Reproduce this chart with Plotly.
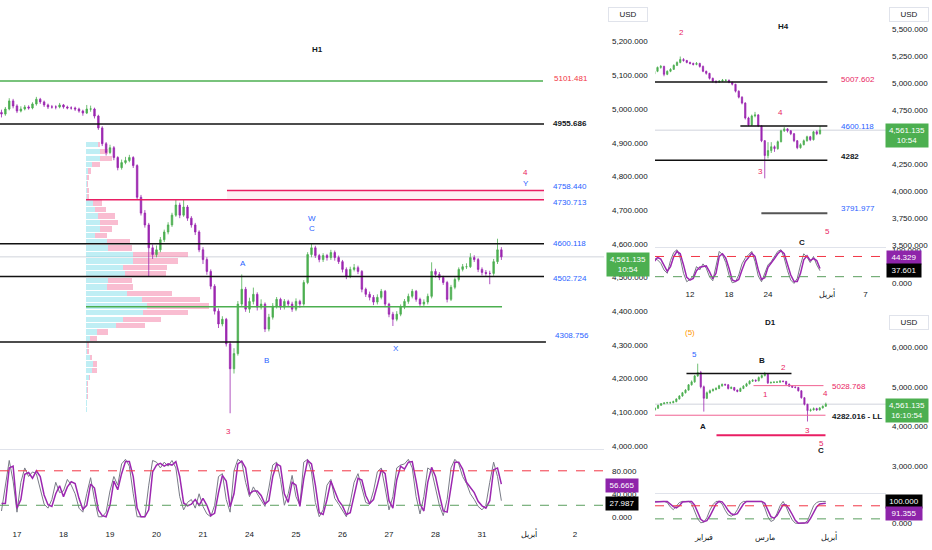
import pandas as pd
import plotly.graph_objects as go

# ---------------- data ----------------
# H1 candles (2-hour bars), first bar 2025-03-14 16:00
h1_start = "2025-03-14 16:00"
h1_open0 = 4990
h1_close = [4985, 5000, 5024, 5009, 4994, 5000, 5006, 5003, 5015, 5029,
            5021, 5012, 5006, 5006, 5006, 5012, 5006, 5003, 5003, 5000,
            4994, 4988, 5000, 5000, 4979, 4944, 4897, 4871, 4885, 4856,
            4826, 4841, 4847, 4856, 4832, 4738, 4691, 4656, 4588, 4568,
            4582, 4612, 4635, 4656, 4685, 4715, 4685, 4709, 4676, 4656,
            4635, 4582, 4553, 4518, 4474, 4400, 4362, 4376, 4303, 4229,
            4274, 4421, 4465, 4406, 4429, 4450, 4412, 4421, 4347, 4382,
            4415, 4435, 4412, 4429, 4421, 4406, 4429, 4421, 4485, 4568,
            4588, 4565, 4553, 4565, 4559, 4574, 4559, 4547, 4524, 4503,
            4524, 4529, 4518, 4465, 4450, 4441, 4427, 4441, 4459, 4421,
            4391, 4376, 4391, 4412, 4429, 4444, 4459, 4435, 4421, 4427,
            4444, 4518, 4509, 4500, 4485, 4435, 4471, 4494, 4524, 4532,
            4532, 4559, 4553, 4524, 4515, 4512, 4512, 4547, 4582, 4561.135]
h1_high = [4998, 5006, 5032, 5030, 5014, 5008, 5012, 5011, 5020, 5036,
           5033, 5025, 5016, 5012, 5011, 5018, 5015, 5010, 5008, 5007,
           5004, 4998, 5012, 5010, 5004, 4983, 4949, 4902, 4894, 4890,
           4860, 4850, 4858, 4864, 4860, 4836, 4745, 4700, 4662, 4598,
           4595, 4620, 4642, 4664, 4692, 4730, 4722, 4730, 4715, 4682,
           4662, 4640, 4590, 4560, 4524, 4480, 4408, 4385, 4380, 4310,
           4290, 4430, 4509, 4472, 4440, 4470, 4456, 4435, 4426, 4392,
           4424, 4442, 4440, 4436, 4434, 4428, 4438, 4434, 4492, 4575,
           4600, 4594, 4570, 4572, 4570, 4582, 4580, 4565, 4552, 4530,
           4532, 4540, 4535, 4522, 4470, 4458, 4448, 4450, 4466, 4463,
           4425, 4398, 4400, 4420, 4436, 4452, 4466, 4463, 4440, 4435,
           4452, 4545, 4526, 4516, 4505, 4490, 4478, 4500, 4530, 4540,
           4542, 4572, 4566, 4558, 4530, 4522, 4520, 4555, 4615, 4590]
h1_low = [4975, 4980, 4996, 5002, 4988, 4990, 4996, 4998, 4999, 5010,
          5015, 5006, 5000, 5001, 4999, 5002, 5001, 4999, 4998, 4994,
          4989, 4980, 4985, 4992, 4972, 4938, 4890, 4862, 4866, 4848,
          4818, 4820, 4836, 4842, 4825, 4730, 4684, 4648, 4503, 4555,
          4560, 4575, 4605, 4628, 4650, 4680, 4676, 4680, 4668, 4648,
          4626, 4575, 4540, 4508, 4465, 4390, 4350, 4355, 4295, 4097,
          4215, 4268, 4415, 4398, 4395, 4420, 4402, 4405, 4338, 4340,
          4375, 4408, 4404, 4405, 4412, 4398, 4400, 4410, 4416, 4480,
          4560, 4558, 4545, 4546, 4550, 4552, 4550, 4540, 4515, 4495,
          4498, 4518, 4510, 4456, 4442, 4432, 4418, 4420, 4435, 4412,
          4382, 4356, 4370, 4385, 4406, 4422, 4438, 4428, 4412, 4414,
          4420, 4438, 4500, 4492, 4478, 4426, 4430, 4465, 4488, 4518,
          4525, 4528, 4546, 4516, 4506, 4505, 4480, 4505, 4540, 4552]
h1_stoch_k = [10, 55, 98, 62, 8, 60, 85, 70, 78, 75,
              50, 22, 15, 30, 60, 42, 45, 65, 55, 40,
              15, 8, 40, 68, 30, 0, 0, 8, 45, 70,
              55, 92, 100, 88, 40, 0, 0, 0, 55, 98,
              95, 85, 95, 88, 98, 85, 35, 12, 25, 30,
              15, 40, 18, 5, 0, 20, 70, 75, 30, 8,
              80, 100, 95, 60, 35, 52, 40, 30, 18, 50,
              90, 95, 65, 20, 40, 72, 35, 20, 95, 100,
              78, 25, 0, 12, 55, 65, 32, 22, 10, 0,
              25, 60, 75, 50, 25, 22, 45, 78, 85, 50,
              12, 35, 85, 90, 92, 100, 85, 35, 5, 35,
              85, 80, 50, 20, 2, 30, 85, 100, 92, 70,
              58, 40, 30, 18, 12, 20, 60, 95, 70, 27.987]
h1_stoch_d = [23, 23, 85, 88, 15, 30, 74, 77, 67, 80,
              70, 38, 21, 18, 40, 54, 35, 52, 61, 58,
              32, 13, 20, 57, 50, 12, 2, 0, 20, 62,
              47, 75, 96, 96, 70, 15, 0, 0, 12, 78,
              90, 93, 88, 92, 90, 96, 70, 24, 19, 22,
              30, 20, 32, 20, 2, 6, 42, 72, 62, 17,
              40, 92, 97, 85, 40, 45, 45, 37, 22, 28,
              70, 92, 88, 40, 25, 60, 55, 18, 66, 98,
              92, 55, 7, 4, 30, 62, 45, 28, 19, 4,
              7, 37, 67, 64, 37, 23, 30, 55, 82, 75,
              28, 15, 64, 88, 83, 95, 96, 62, 22, 10,
              60, 86, 70, 39, 10, 8, 55, 95, 95, 83,
              60, 51, 42, 27, 19, 15, 28, 82, 85, 56.665]

# H1 volume profile
vp_price = [4894, 4874, 4854, 4835, 4816, 4797, 4778, 4759, 4740, 4721,
            4701, 4682, 4663, 4644, 4625, 4606, 4587, 4568, 4549, 4529,
            4510, 4491, 4472, 4453, 4434, 4415, 4396, 4376, 4357, 4338,
            4319, 4300, 4281, 4262, 4243, 4224, 4204, 4185, 4166, 4147,
            4128, 4109]
vp_up = [12, 14, 14, 6, 2, 1, 1, 1, 1, 7, 9, 12, 14, 14, 9, 21, 22, 47, 47, 37,
         39, 22, 21, 41, 56, 61, 57, 37, 30, 11, 4, 1, 1, 4, 7, 6, 3, 1, 1, 1, 1, 1]
vp_down = [2, 8, 12, 8, 3, 2, 1, 2, 2, 9, 11, 17, 18, 12, 12, 23, 24, 55, 45, 44,
           41, 24, 26, 45, 58, 62, 45, 38, 29, 11, 7, 2, 2, 2, 4, 5, 1, 1, 0.5, 0.5, 0, 0]

# H4 candles (8-hour bars)
h4_start = "2025-03-06 12:00"
h4_open0 = 5080
h4_close = [5106, 5142, 5151, 5078, 5106, 5124, 5161, 5188, 5216, 5206,
            5188, 5179, 5170, 5179, 5151, 5106, 5087, 5041, 5014, 5005,
            5014, 5023, 5023, 5005, 4986, 4922, 4867, 4812, 4674, 4610,
            4693, 4702, 4601, 4463, 4326, 4372, 4408, 4390, 4454, 4555,
            4573, 4555, 4528, 4463, 4399, 4427, 4463, 4500, 4473, 4546,
            4528, 4561.135]
h4_high = [5125, 5150, 5165, 5158, 5115, 5135, 5170, 5198, 5243, 5228,
           5212, 5195, 5186, 5192, 5185, 5160, 5112, 5092, 5048, 5022,
           5025, 5035, 5032, 5030, 5010, 4990, 4930, 4875, 4820, 4685,
           4705, 4730, 4710, 4608, 4470, 4450, 4450, 4420, 4465, 4565,
           4590, 4580, 4562, 4535, 4470, 4440, 4475, 4510, 4508, 4555,
           4560, 4600]
h4_low = [5070, 5098, 5130, 5060, 5070, 5098, 5118, 5155, 5180, 5195,
          5180, 5170, 5160, 5162, 5140, 5098, 5075, 5030, 5002, 4995,
          4998, 5008, 5012, 4996, 4975, 4910, 4855, 4800, 4660, 4598,
          4600, 4680, 4590, 4450, 4115, 4300, 4350, 4360, 4380, 4448,
          4545, 4540, 4515, 4450, 4385, 4390, 4420, 4455, 4460, 4465,
          4515, 4520]
h4_stoch_k = [75, 70, 60, 40, 30, 68, 92, 100, 75, 30,
              5, 12, 22, 50, 40, 58, 45, 20, 8, 55,
              95, 85, 62, 25, 2, 5, 25, 58, 75, 85,
              95, 65, 22, 5, 30, 55, 65, 82, 95, 100,
              75, 38, 10, 0, 15, 55, 88, 78, 62, 80,
              55, 37.601]
h4_stoch_d = [65, 77, 72, 55, 36, 50, 80, 95, 88, 55,
              18, 10, 15, 38, 48, 50, 52, 35, 14, 30,
              80, 88, 75, 45, 10, 6, 12, 40, 65, 77,
              90, 80, 41, 12, 17, 48, 60, 74, 88, 97,
              88, 57, 25, 6, 6, 30, 70, 82, 68, 74,
              68, 44.329]

# D1 candles
d1_start = "2025-01-10 12:00"
d1_open0 = 4420
d1_close = [4457, 4532, 4574, 4591, 4599, 4599, 4624, 4691, 4766, 4849,
            4916, 5049, 5124, 5274, 5358, 4999, 4708, 4849, 4899, 4932,
            4957, 5024, 5058, 5049, 4957, 4982, 4916, 4883, 4957, 5016,
            5074, 5141, 5166, 5149, 5233, 5283, 5316, 5099, 5108, 5116,
            5116, 5141, 5133, 5066, 5016, 4991, 4982, 4899, 4724, 4558,
            4399, 4416, 4449, 4416, 4466, 4508, 4561.135]
d1_high = [4480, 4545, 4590, 4610, 4620, 4625, 4650, 4710, 4790, 4870,
           4940, 5070, 5160, 5300, 5583, 5400, 5030, 4880, 4930, 4960,
           4990, 5050, 5085, 5080, 5065, 5010, 4995, 4930, 4980, 5040,
           5100, 5165, 5190, 5185, 5260, 5310, 5374, 5330, 5135, 5140,
           5145, 5165, 5160, 5150, 5080, 5030, 5010, 4995, 4910, 4740,
           4570, 4450, 4480, 4470, 4490, 4530, 4600]
d1_low = [4400, 4445, 4520, 4560, 4575, 4570, 4585, 4610, 4680, 4750,
          4830, 4900, 5030, 5100, 5250, 4960, 4374, 4690, 4830, 4880,
          4910, 4940, 5000, 5020, 4930, 4940, 4890, 4860, 4870, 4940,
          5000, 5060, 5120, 5125, 5135, 5210, 5260, 5070, 5080, 5090,
          5095, 5100, 5110, 5045, 5000, 4970, 4960, 4880, 4700, 4530,
          4124, 4370, 4400, 4390, 4400, 4450, 4495]
d1_stoch_k = [100, 100, 100, 100, 95, 75, 62, 78, 95, 100,
              100, 100, 90, 55, 20, 2, 5, 25, 60, 85,
              100, 100, 88, 60, 38, 32, 40, 62, 90, 100,
              100, 100, 100, 100, 100, 100, 70, 30, 8, 15,
              45, 80, 100, 75, 42, 15, 0, 0, 0, 0,
              12, 45, 80, 95, 100, 100, 100]
d1_stoch_d = [97, 99, 100, 100, 100, 88, 76, 70, 80, 97,
              100, 100, 100, 83, 50, 18, 7, 12, 33, 60,
              88, 100, 98, 81, 58, 43, 39, 44, 64, 88,
              100, 100, 100, 100, 100, 100, 91, 60, 30, 23,
              35, 60, 85, 84, 65, 40, 13, 0, 0, 0,
              2, 22, 50, 75, 88, 90, 91.355]

last_price = 4561.135

h1_ticks = ["2025-03-17", "2025-03-18", "2025-03-19", "2025-03-20", "2025-03-21",
            "2025-03-24", "2025-03-25", "2025-03-26", "2025-03-27", "2025-03-28",
            "2025-03-31", "2025-04-01", "2025-04-02"]
h1_tick_text = ["17", "18", "19", "20", "21", "24", "25", "26", "27", "28", "31", "أبريل", "2"]
h4_ticks = ["2025-03-12 04:00", "2025-03-18 04:00", "2025-03-24 04:00",
            "2025-04-01 04:00", "2025-04-07 04:00"]
h4_tick_text = ["12", "18", "24", "أبريل", "7"]
d1_ticks = ["2025-02-03 12:00", "2025-03-03 12:00", "2025-04-01 12:00"]
d1_tick_text = ["فبراير", "مارس", "أبريل"]

# ---------------- helpers ----------------
def session_times(start, step_h, n):
    out, t = [], pd.Timestamp(start)
    step = pd.Timedelta(hours=step_h)
    while len(out) < n:
        if t.weekday() < 5:
            out.append(t)
        t += step
    return out

def opens(first, closes):
    return [first] + closes[:-1]

h1_t = session_times(h1_start, 2, len(h1_close))
h4_t = session_times(h4_start, 8, len(h4_close))
d1_t = session_times(d1_start, 24, len(d1_close))

GREEN = "#4caf50"
PURPLE = "#9c27b0"
PURPLE_BOX = "#8e24aa"
GREY = "#787b86"
RED = "#e91e63"
RED_TXT = "#f23645"
BLUE = "#2962ff"
BLACK = "#131722"
ORANGE = "#ff9800"
FONT = "Liberation Sans, Arial, sans-serif"

W, H = 932, 550
LX = [0, 604 / W]
RX = [655 / W, 886 / W]

h1_range = ["2025-03-14 15:14", "2025-04-02 14:58"]
h4_range = ["2025-03-06 13:50", "2025-04-09 06:28"]
d1_range = ["2025-01-10 12:00", "2025-04-28 05:45"]

fig = go.Figure()

# volume profile (base linear axis under the H1 candles)
fig.add_trace(go.Bar(orientation="h", y=vp_price, x=vp_up, xaxis="x", yaxis="y", width=16,
                     marker=dict(color="rgba(128,222,234,0.5)", line_width=0), hoverinfo="skip"))
fig.add_trace(go.Bar(orientation="h", y=vp_price, x=vp_down, xaxis="x", yaxis="y", width=16,
                     marker=dict(color="rgba(240,98,146,0.42)", line_width=0), hoverinfo="skip"))

def candles(t, o0, c, h, l, xa, ya, lw=1):
    return go.Candlestick(x=t, open=opens(o0, c), high=h, low=l, close=c, xaxis=xa, yaxis=ya,
                          increasing=dict(line=dict(color=GREEN, width=lw), fillcolor=GREEN),
                          decreasing=dict(line=dict(color=PURPLE, width=lw), fillcolor=PURPLE),
                          whiskerwidth=0, hoverinfo="skip")

fig.add_trace(candles(h1_t, h1_open0, h1_close, h1_high, h1_low, "x7", "y", 0.8))
fig.add_trace(candles(h4_t, h4_open0, h4_close, h4_high, h4_low, "x3", "y3", 0.8))
fig.add_trace(candles(d1_t, d1_open0, d1_close, d1_high, d1_low, "x5", "y5", 0.8))

def stoch(t, k, d, xa, ya):
    fig.add_trace(go.Scatter(x=t, y=k, xaxis=xa, yaxis=ya, mode="lines",
                             line=dict(color=GREY, width=1), hoverinfo="skip"))
    fig.add_trace(go.Scatter(x=t, y=d, xaxis=xa, yaxis=ya, mode="lines",
                             line=dict(color=PURPLE, width=1.5), hoverinfo="skip"))

stoch(h1_t, h1_stoch_k, h1_stoch_d, "x2", "y2")
stoch(h4_t, h4_stoch_k, h4_stoch_d, "x4", "y4")
stoch(d1_t, d1_stoch_k, d1_stoch_d, "x6", "y6")

# ---------------- shapes ----------------
shapes = []
def hline(xref, yref, x0, x1, y, color, width=1.5, dash=None, layer="above"):
    shapes.append(dict(type="line", xref=xref, yref=yref, x0=x0, x1=x1, y0=y, y1=y,
                       line=dict(color=color, width=width, dash=dash), layer=layer))

# H1 drawings
hline("x domain", "y", 0, 1, last_price, "#d1d4dc", 1, layer="below")
shapes.append(dict(type="rect", xref="x7", yref="y", x0="2025-03-21 12:23", x1="2025-04-01 08:00",
                   y0=4730.713, y1=4758.440, fillcolor="rgba(233,30,99,0.07)", line_width=0, layer="below"))
hline("x7", "y", h1_range[0], "2025-04-01 07:30", 5083, GREEN, 1.5)
hline("x7", "y", h1_range[0], "2025-04-01 08:00", 4955.686, "#111111", 1.5)
hline("x7", "y", "2025-03-21 12:23", "2025-04-01 08:00", 4758.440, RED, 1.5)
hline("x7", "y", "2025-03-18 11:37", "2025-04-01 08:00", 4730.713, RED, 1.5)
hline("x7", "y", h1_range[0], "2025-04-01 08:00", 4600.118, "#111111", 1.5)
hline("x7", "y", h1_range[0], "2025-04-01 08:00", 4502.724, "#111111", 1.5)
hline("x7", "y", "2025-03-18 11:37", "2025-03-31 10:20", 4413, GREEN, 1.5)
hline("x7", "y", h1_range[0], "2025-04-01 09:00", 4308.756, "#111111", 1.5)
hline("x2 domain", "y2", 0, 1, 80, RED_TXT, 1, "dash")
hline("x2 domain", "y2", 0, 1, 20, "#5a9e5e", 1, "dash")

# H4 drawings
hline("x3 domain", "y3", 0, 1, last_price, "#d1d4dc", 1, layer="below")
hline("x3", "y3", h4_range[0], "2025-04-01 06:09", 5007.602, "#111111", 1.5)
hline("x3", "y3", "2025-03-19 08:00", "2025-04-01 06:09", 4600.118, "#111111", 1.5)
hline("x3", "y3", h4_range[0], "2025-04-01 06:09", 4282, "#111111", 1.5)
hline("x3", "y3", "2025-03-21 11:41", "2025-04-01 06:09", 3791.977, "#555555", 2)
hline("x4 domain", "y4", 0, 1, 80, RED_TXT, 1, "dash")
hline("x4 domain", "y4", 0, 1, 20, "#5a9e5e", 1, "dash")

# D1 drawings
hline("x5 domain", "y5", 0, 1, last_price, "#d1d4dc", 1, layer="below")
hline("x5", "y5", "2025-01-24 19:40", "2025-03-14 06:00", 5333, "#111111", 1.5)
hline("x5", "y5", "2025-02-25 19:00", "2025-03-28 17:45", 5028.768, "#f06292", 1)
hline("x5", "y5", d1_range[0], "2025-03-31 09:36", 4282.016, "#f06292", 1)
hline("x5", "y5", "2025-02-07 15:50", "2025-03-31 09:36", 3775, RED, 2)
hline("x6 domain", "y6", 0, 1, 80, RED_TXT, 1, "dash")
hline("x6 domain", "y6", 0, 1, 20, "#5a9e5e", 1, "dash")

# ---------------- annotations ----------------
ann = []
def label(xref, yref, x, y, text, color, bold=False, size=8, xanchor="center"):
    ann.append(dict(xref=xref, yref=yref, x=x, y=y, text=f"<b>{text}</b>" if bold else text,
                    showarrow=False, xanchor=xanchor, yanchor="middle",
                    font=dict(color=color, size=size, family=FONT)))

def box(xref, yref, x, y, text, bg, fg="white", yshift=0, width=None, border=None, size=8):
    d = dict(xref=xref, yref=yref, x=x, y=y, text=text, showarrow=False, xanchor="center",
             yanchor="middle", yshift=yshift, bgcolor=bg, borderpad=2,
             font=dict(color=fg, size=size, family=FONT), align="center")
    if width:
        d["width"] = width
    if border:
        d["bordercolor"] = border
        d["borderwidth"] = 1
    ann.append(d)

# titles
label("paper", "paper", 317 / W, 1 - 48 / H, "H1", BLACK, True)
label("paper", "paper", 783 / W, 1 - 25 / H, "H4", BLACK, True)
label("paper", "paper", 770 / W, 1 - 323 / H, "D1", BLACK, True)

# H1 level labels
for txt, x, y, col, b in [
    ("5101.481", "2025-04-01 12:07", 5091, RED_TXT, False),
    ("4955.686", "2025-04-01 11:37", 4958, BLACK, True),
    ("4758.440", "2025-04-01 11:37", 4771, BLUE, False),
    ("4730.713", "2025-04-01 11:37", 4724, BLUE, False),
    ("4600.118", "2025-04-01 11:37", 4600, BLUE, False),
    ("4502.724", "2025-04-01 11:37", 4497, BLUE, False),
    ("4308.756", "2025-04-01 12:39", 4329, BLUE, False)]:
    label("x7", "y", x, y, txt, col, b, xanchor="left")
for txt, x, y, col in [
    ("4", "2025-03-31 22:42", 4812, RED), ("Y", "2025-03-31 22:42", 4779, BLUE),
    ("W", "2025-03-25 08:15", 4676, BLUE), ("C", "2025-03-25 08:30", 4644, BLUE),
    ("A", "2025-03-21 20:38", 4541, BLUE), ("B", "2025-03-24 09:02", 4253, BLUE),
    ("X", "2025-03-27 03:37", 4288, BLUE), ("3", "2025-03-21 13:25", 4044, RED)]:
    label("x7", "y", x, y, txt, col)

# H4 labels
for txt, x, y, col, b in [
    ("2", "2025-03-11 06:46", 5463, RED, False), ("4", "2025-03-25 10:28", 4729, RED, False),
    ("3", "2025-03-21 09:14", 4179, RED, False), ("5", "2025-04-01 06:09", 3619, RED, False),
    ("C", "2025-03-27 16:37", 3518, BLACK, True)]:
    label("x3", "y3", x, y, txt, col, b)
for txt, y, col, b in [("5007.602", 5032, RED, False), ("4600.118", 4592, BLUE, False),
                       ("4282", 4317, BLACK, True), ("3791.977", 3840, BLUE, False)]:
    label("x3", "y3", "2025-04-02 11:41", y, txt, col, b, xanchor="left")

# D1 labels
for txt, x, y, col, b in [
    ("(5)", "2025-01-28 03:07", 6357, ORANGE, False), ("5", "2025-01-29 10:34", 5808, BLUE, False),
    ("B", "2025-02-28 17:46", 5658, BLACK, True), ("2", "2025-03-11 14:53", 5483, RED, False),
    ("1", "2025-03-03 17:17", 4808, RED, False), ("4", "2025-03-31 09:22", 4833, RED, False),
    ("A", "2025-02-03 09:22", 4008, BLACK, True), ("3", "2025-03-21 11:46", 3908, RED, False),
    ("5", "2025-03-28 01:55", 3558, RED, False), ("C", "2025-03-28 01:55", 3383, BLACK, True)]:
    label("x5", "y5", x, y, txt, col, b)
label("x5", "y5", "2025-04-02 00:43", 5008, "5028.768", RED, False, xanchor="left")
label("x5", "y5", "2025-04-02 00:43", 4258, "4282.016 - LL", BLACK, True, xanchor="left")

# axis header boxes
box("paper", "paper", 628 / W, 1 - 12.5 / H, "USD", "white", BLACK, width=34, border="#e0e3eb")
box("paper", "paper", 909 / W, 1 - 12.5 / H, "USD", "white", BLACK, width=34, border="#e0e3eb")
box("paper", "paper", 909 / W, 1 - 323.5 / H, "USD", "white", BLACK, width=34, border="#e0e3eb")

# last-value boxes
price_txt = f"{last_price:,.3f}"
box("paper", "y", 627.5 / W, last_price, f"{price_txt}<br>10:54", GREEN, yshift=-7.5, width=38)
box("paper", "y3", 907 / W, last_price, f"{price_txt}<br>10:54", GREEN, yshift=-5.5, width=38)
box("paper", "y5", 906.5 / W, last_price, f"{price_txt}<br>16:10:54", GREEN, yshift=-6, width=38)
box("paper", "y2", 621.5 / W, h1_stoch_d[-1], f"{h1_stoch_d[-1]:.3f}", PURPLE_BOX, yshift=-1, width=28)
box("paper", "y2", 621.5 / W, h1_stoch_k[-1], f"{h1_stoch_k[-1]:.3f}", "black", yshift=-3, width=28)
box("paper", "y4", 904 / W, h4_stoch_d[-1], f"{h4_stoch_d[-1]:.3f}", PURPLE_BOX, yshift=11, width=30)
box("paper", "y4", 904 / W, h4_stoch_k[-1], f"{h4_stoch_k[-1]:.3f}", "black", yshift=0, width=30)
box("paper", "y6", 903.5 / W, d1_stoch_k[-1], f"{d1_stoch_k[-1]:.3f}", "black", yshift=0, width=32)
box("paper", "y6", 903.5 / W, d1_stoch_d[-1], f"{d1_stoch_d[-1]:.3f}", PURPLE_BOX, yshift=-10, width=32)

# ---------------- layout ----------------
tickfont = dict(size=8, color=BLACK, family=FONT)
rb = [dict(bounds=["sat", "mon"])]

def date_axis(domain, anchor, rng, tickvals=None, ticktext=None, standoff=3, line=False):
    d = dict(type="date", domain=domain, anchor=anchor, range=rng, rangebreaks=rb,
             showgrid=False, zeroline=False, ticks="", tickfont=tickfont, fixedrange=True,
             rangeslider=dict(visible=False))
    if tickvals is None:
        d["showticklabels"] = False
    else:
        d.update(tickmode="array", tickvals=tickvals, ticktext=ticktext, ticklabelstandoff=standoff)
    if line:
        d.update(showline=True, linecolor="#e0e3eb", linewidth=1)
    return d

def price_axis(domain, anchor, rng, tickvals, ticktext=None, fmt=",.3f", standoff=6):
    d = dict(domain=domain, anchor=anchor, range=rng, side="right", showgrid=False,
             zeroline=False, ticks="", tickfont=tickfont, tickmode="array", tickvals=tickvals,
             ticklabelstandoff=standoff, fixedrange=True)
    if ticktext:
        d["ticktext"] = ticktext
    else:
        d["tickformat"] = fmt
    return d

x7 = date_axis(LX, "y", h1_range, line=True)
x7.pop("domain")
x7["overlaying"] = "x"

fig.update_layout(
    width=W, height=H, margin=dict(l=0, r=0, t=0, b=0),
    paper_bgcolor="white", plot_bgcolor="white", showlegend=False,
    barmode="stack", bargap=0, boxgap=0.45, font=dict(family=FONT),
    xaxis=dict(domain=LX, anchor="y", range=[-86, 518], visible=False, fixedrange=True),
    xaxis7=x7,
    yaxis=price_axis([1 - 451 / H, 1], "x", [3991.2, 5317.6], list(range(4000, 5201, 100)), standoff=7),
    xaxis2=date_axis(LX, "y2", h1_range, h1_ticks, h1_tick_text, 3),
    yaxis2=price_axis([1 - 528 / H, 1 - 452 / H], "x2", [-14.7, 116.4], [0, 40, 80],
                      ["0.000", "40.000", "80.000"], standoff=7),
    xaxis3=date_axis(RX, "y3", h4_range, line=True),
    yaxis3=price_axis([1 - 247 / H, 1], "x3", [3481.7, 5747.7], list(range(3500, 5501, 250)), standoff=5),
    xaxis4=date_axis(RX, "y4", h4_range, h4_ticks, h4_tick_text, 2),
    yaxis4=price_axis([1 - 287 / H, 1 - 248 / H], "x4", [-8.8, 105.9], [0, 100],
                      ["0.000", "100.000"], standoff=5),
    xaxis5=date_axis(RX, "y5", d1_range, line=True),
    yaxis5=price_axis([1 - 496 / H, 1 - 308 / H], "x5", [2307.5, 7007.5], [3000, 4000, 5000, 6000], standoff=5),
    xaxis6=date_axis(RX, "y6", d1_range, d1_ticks, d1_tick_text, 3),
    yaxis6=price_axis([1 - 531 / H, 1 - 497 / H], "x6", [-22.7, 131.8], [0, 100],
                      ["0.000", "100.000"], standoff=5),
    shapes=shapes, annotations=ann,
)

fig.write_html("out.html", config={"displayModeBar": False},
               post_script="document.body.style.margin='0';document.body.style.padding='0';document.body.style.overflow='hidden';")
